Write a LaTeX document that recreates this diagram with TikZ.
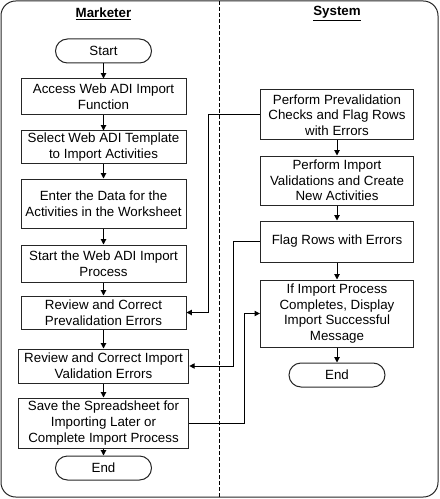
\documentclass[tikz,border=0pt]{standalone}
\usepackage{fontspec}
\setmainfont{Liberation Sans}
\usetikzlibrary{arrows.meta}

\begin{document}
\begin{tikzpicture}[
      x=0.75pt, y=-0.75pt,
      every node/.style={font=\fontsize{10}{11.8}\selectfont},
      task/.style={rectangle, draw=black!85, line width=0.75pt, align=center,
                   inner sep=1pt, minimum width=123.75pt},
      wide/.style={task, minimum width=128pt},
      sys/.style={task, minimum width=115pt},
      term/.style={rectangle, draw=black!85, line width=0.75pt, rounded corners=9pt,
                   minimum width=72pt, minimum height=18pt},
      lane/.style={font=\bfseries\fontsize{10}{12}\selectfont},
      arr/.style={-{Triangle[length=4pt, width=4pt]}, draw=black, line width=0.75pt},
    ]
    \useasboundingbox (0,0) rectangle (439,499);

    % frame and swimlane divider
    \draw[draw=black!85, line width=0.75pt, rounded corners=11pt] (1,1) rectangle (438,497);
    \draw[dash pattern=on 3pt off 1.5pt, line width=0.75pt] (219,1) -- (219,497);

    \node[lane] (marketer) at (103.5,14) {\underline{Marketer}};
    \node[lane] (system)   at (337,14)   {\underline{System}};

    % marketer lane
    \node[term] (start) at (103.5,51) {Start};
    \node[task, minimum height=27pt]    (access) at (103.5,97)    {Access Web ADI Import\\Function};
    \node[task, minimum height=24pt]    (select) at (103.5,147)   {Select Web ADI Template\\to Import Activities};
    \node[task, minimum height=36.75pt] (enter)  at (103.5,203.5) {Enter the Data for the\\Activities in the Worksheet};
    \node[task, minimum height=27.75pt] (launch) at (103.5,263.5) {Start the Web ADI Import\\Process};
    \node[task, minimum height=24.75pt] (prefix) at (103.5,312.5) {Review and Correct\\Prevalidation Errors};
    \node[wide, minimum height=25.5pt]  (valfix) at (103.5,366)   {Review and Correct Import\\Validation Errors};
    \node[wide, minimum height=37.5pt]  (save)   at (103.5,423)   {Save the Spreadsheet for\\Importing Later or\\Complete Import Process};
    \node[term] (endm) at (103.5,468) {End};

    % system lane
    \node[sys, minimum height=37.5pt]  (precheck) at (337,115)   {Perform Prevalidation\\Checks and Flag Rows\\with Errors};
    \node[sys, minimum height=36.75pt] (create)   at (337,180.5) {Perform Import\\Validations and Create\\New Activities};
    \node[sys, minimum height=30.75pt] (flag)     at (337,241.5) {Flag Rows with Errors};
    \node[sys, minimum height=50.25pt] (success)  at (337,313.5) {If Import Process\\Completes, Display\\Import Successful\\Message};
    \node[term] (ends) at (337,375) {End};

    \draw[arr] (start)  -- (access);
    \draw[arr] (access) -- (select);
    \draw[arr] (select) -- (enter);
    \draw[arr] (enter)  -- (launch);
    \draw[arr] (launch) -- (prefix);
    \draw[arr] (prefix) -- (valfix);
    \draw[arr] (valfix) -- (save);
    \draw[arr] (save)   -- (endm);

    \draw[arr] (precheck) -- (create);
    \draw[arr] (create)   -- (flag);
    \draw[arr] (flag)     -- (success);
    \draw[arr] (success)  -- (ends);

    % cross-lane connectors
    \coordinate (bendpre)  at (208,0);
    \coordinate (bendval)  at (233,0);
    \coordinate (bendsave) at (244,0);
    \draw[arr] (precheck.west) -| (bendpre |- prefix.east) -- (prefix.east);
    \draw[arr] (flag.west)     -| (bendval |- valfix.east) -- (valfix.east);
    \draw[arr] (save.east)     -| (bendsave |- success.west) -- (success.west);
  \end{tikzpicture}
\end{document}
